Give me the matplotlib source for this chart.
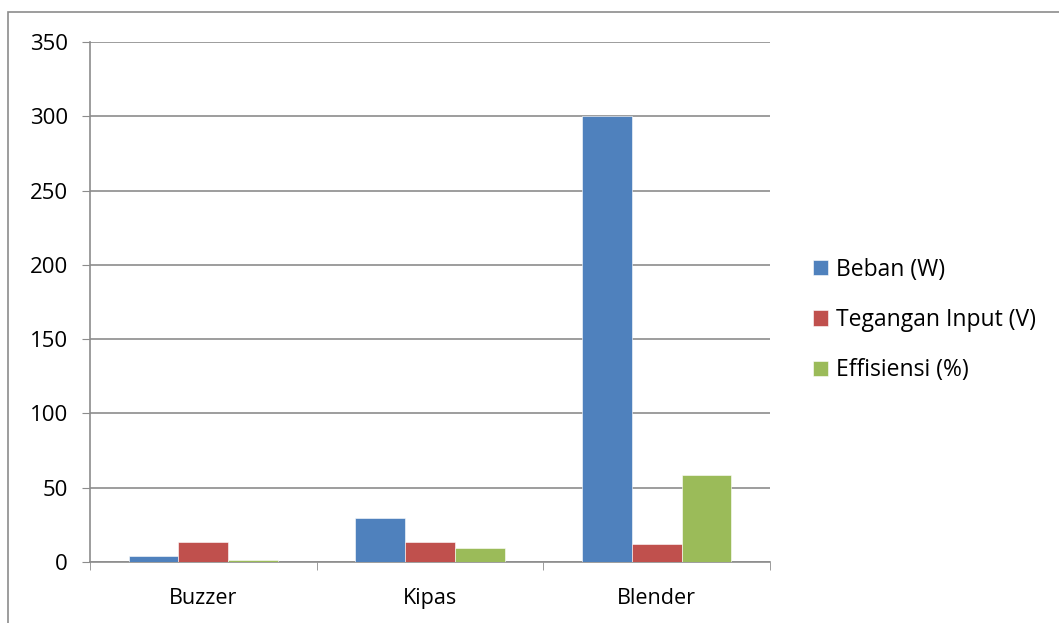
import matplotlib.pyplot as plt
import numpy as np
from matplotlib.patches import Rectangle

categories = ["Buzzer", "Kipas", "Blender"]
beban = [4.3, 29.5, 300]
tegangan = [13.5, 13.3, 12.4]
effisiensi = [1.1, 9.7, 58.3]

series = [
    ("Beban (W)", beban, "#4f81bd"),
    ("Tegangan Input (V)", tegangan, "#c0504d"),
    ("Effisiensi (%)", effisiensi, "#9bbb59"),
]

plt.rcParams["font.family"] = ["Open Sans", "DejaVu Sans"]

W, H = 1059, 623
fig = plt.figure(figsize=(W / 100, H / 100), dpi=100)
ax = fig.add_axes([90 / W, 1 - 562 / H, 680 / W, 520 / H])

# outer chart frame
fig.patches.append(Rectangle((8 / W, -0.01), 1.1, 1 - 12 / H + 0.01, transform=fig.transFigure,
                             fill=False, edgecolor="#8c8c8c", linewidth=1.2))

x = np.arange(len(categories))
width = 0.22
for i, (label, values, color) in enumerate(series):
    ax.bar(x + (i - 1) * width, values, width=width, color=color, label=label,
           edgecolor="white", linewidth=0.4, zorder=3)

ax.set_xlim(-0.5, len(categories) - 0.5)
ax.set_ylim(0, 350)
ax.set_yticks(range(0, 351, 50))
ax.set_xticks(x)
ax.set_xticklabels(categories)
ax.set_xticks(np.arange(-0.5, len(categories)), minor=True)
ax.tick_params(axis="x", which="major", length=0, pad=19, labelsize=15.5)
ax.tick_params(axis="x", which="minor", length=6, color="#8c8c8c", direction="out")
ax.tick_params(axis="y", length=6, color="#8c8c8c", direction="out", pad=10, labelsize=16)
ax.grid(axis="y", color="#8c8c8c", linewidth=1.2, zorder=0)
for side in ["top", "right"]:
    ax.spines[side].set_visible(False)
for side in ["left", "bottom"]:
    ax.spines[side].set_color("#8c8c8c")
    ax.spines[side].set_linewidth(1.2)

fig.legend(loc="center left", bbox_to_anchor=(792 / W, 1 - 320 / H), frameon=False,
           fontsize=16.5, handlelength=0.65, handleheight=0.65, handletextpad=0.35,
           labelspacing=1.15)

fig.savefig("out.png", dpi=100)
